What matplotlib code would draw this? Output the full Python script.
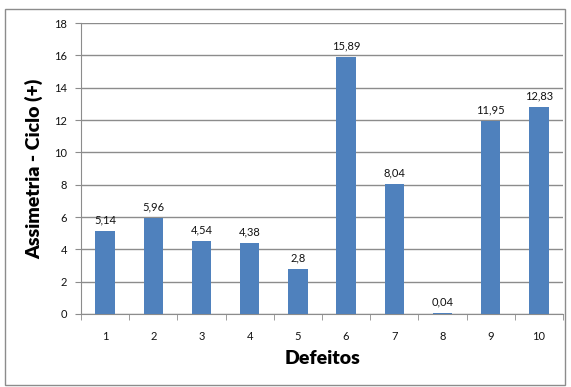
import matplotlib
matplotlib.use("Agg")
import matplotlib.pyplot as plt
from matplotlib.patches import Rectangle

plt.rcParams['font.family'] = ['Lato', 'DejaVu Sans']

defeitos = ["1", "2", "3", "4", "5", "6", "7", "8", "9", "10"]
assimetria = [5.14, 5.96, 4.54, 4.38, 2.8, 15.89, 8.04, 0.04, 11.95, 12.83]
rotulos = ["5,14", "5,96", "4,54", "4,38", "2,8", "15,89", "8,04", "0,04", "11,95", "12,83"]

W, H = 571, 387
fig = plt.figure(figsize=(W / 100, H / 100), dpi=100)
fig.patches.append(Rectangle((5 / W, 2 / H), 560 / W, (H - 11) / H, transform=fig.transFigure,
                             fill=False, edgecolor="#8c8c8c", linewidth=1))

ax = fig.add_axes([81 / W, 1 - 314 / H, (563 - 81) / W, (314 - 23) / H])
pos = list(range(len(defeitos)))
ax.bar(pos, assimetria, width=0.4, color="#4f81bd", zorder=3)
for x, v, t in zip(pos, assimetria, rotulos):
    ax.text(x, v + 0.35, t, ha="center", va="bottom", fontsize=8, color="#111111")

ax.set_xlim(-0.5, 9.5)
ax.set_ylim(0, 18)
ax.set_yticks(range(0, 19, 2))
ax.set_xticks(pos)
ax.set_xticklabels(defeitos)
ax.set_xticks([i + 0.5 for i in range(-1, 10)], minor=True)
ax.tick_params(axis="x", which="major", length=0, pad=12, labelsize=8, labelcolor="#111111")
ax.tick_params(axis="x", which="minor", length=4, direction="out", color="#8c8c8c")
ax.tick_params(axis="y", length=4, direction="out", color="#8c8c8c", labelsize=8,
               labelcolor="#111111", pad=6)
ax.grid(axis="y", color="#8c8c8c", linewidth=1, zorder=0)
for s in ["top", "right"]:
    ax.spines[s].set_visible(False)
for s in ["left", "bottom"]:
    ax.spines[s].set_color("#8c8c8c")

ax.set_xlabel("Defeitos", fontsize=14, fontweight="heavy", labelpad=6)
ax.set_ylabel("Assimetria - Ciclo (+)", fontsize=14, fontweight="heavy", labelpad=8)

fig.savefig("out.png", dpi=100)
